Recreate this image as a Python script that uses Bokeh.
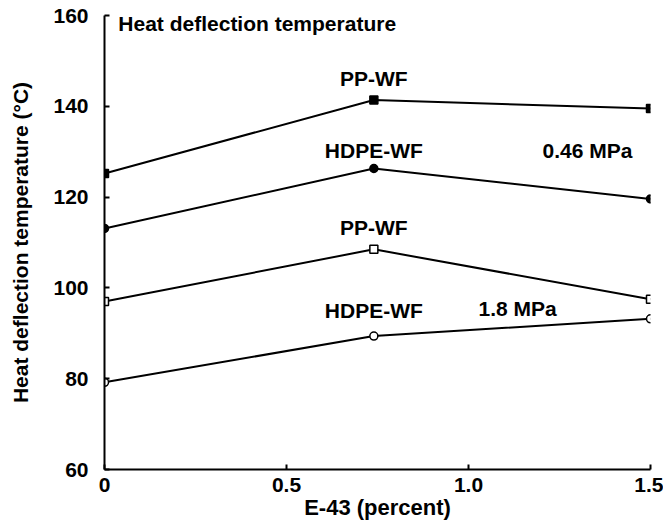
from bokeh.plotting import figure
from bokeh.models import Range1d, FixedTicker, ColumnDataSource
from bokeh.core.properties import value
from bokeh.embed import file_html
from bokeh.resources import INLINE

# Data
e43_percent = [0, 0.74, 1.5]
pp_wf_046 = [125.2, 141.4, 139.5]
hdpe_wf_046 = [113.1, 126.3, 119.6]
pp_wf_18 = [97.0, 108.5, 97.5]
hdpe_wf_18 = [79.2, 89.4, 93.2]
x_ticks = [0, 0.5, 1.0, 1.5]
x_tick_labels = {0: "0", 0.5: "0.5", 1.0: "1.0", 1.5: "1.5"}
y_ticks = [60, 80, 100, 120, 140, 160]

FONT = "Liberation Sans"

p = figure(width=663, height=524, output_backend="svg", toolbar_location=None,
           x_range=Range1d(0, 1.5), y_range=Range1d(60, 160),
           min_border_left=104, min_border_right=13, min_border_top=15, min_border_bottom=55)
p.outline_line_color = None
p.xgrid.visible = False
p.ygrid.visible = False
p.background_fill_color = "white"
p.border_fill_color = "white"

for ax in (p.xaxis[0], p.yaxis[0]):
    ax.axis_line_width = 2
    ax.axis_line_color = "black"
    ax.major_tick_in = 5
    ax.major_tick_out = 0
    ax.major_tick_line_width = 2
    ax.minor_tick_line_color = None
    ax.major_label_text_font = FONT
    ax.major_label_text_font_size = "21px"
    ax.major_label_text_font_style = "bold"
    ax.major_label_text_color = "black"
    ax.axis_label_text_font = FONT
    ax.axis_label_text_font_size = "21px"
    ax.axis_label_text_font_style = "bold"
    ax.axis_label_text_color = "black"

p.xaxis.ticker = FixedTicker(ticks=x_ticks)
p.xaxis.major_label_overrides = x_tick_labels
p.yaxis.ticker = FixedTicker(ticks=y_ticks)
p.xaxis.axis_label = "E-43 (percent)"
p.xaxis.axis_label_text_font_size = "22px"
p.yaxis.axis_label = "Heat deflection temperature (°C)"
p.xaxis.major_label_standoff = 8
p.xaxis.axis_label_standoff = 0
p.yaxis.major_label_standoff = 16
p.yaxis.axis_label_standoff = 18

series = [
    (pp_wf_046, "square", "black"),
    (hdpe_wf_046, "circle", "black"),
    (pp_wf_18, "square", "white"),
    (hdpe_wf_18, "circle", "white"),
]
for ys, marker, fill in series:
    p.line(e43_percent, ys, line_color="black", line_width=2)
    p.scatter(e43_percent, ys, marker=marker, size=8, fill_color=fill,
              line_color="black", line_width=1.5)

# Annotations
ann = ColumnDataSource(dict(
    x=[0.038, 0.74, 0.74, 1.327, 0.74, 0.74, 1.135],
    y=[158.3, 146.2, 130.3, 130.3, 113.3, 95.0, 95.5],
    t=["Heat deflection temperature", "PP-WF", "HDPE-WF", "0.46 MPa",
       "PP-WF", "HDPE-WF", "1.8 MPa"],
    a=["left", "center", "center", "center", "center", "center", "center"],
))
p.text(x="x", y="y", text="t", source=ann, text_align="a", text_baseline="middle",
       text_font=value(FONT), text_font_size="21px", text_font_style="bold",
       text_color="black")

open("out.html", "w").write(file_html(p, INLINE))
